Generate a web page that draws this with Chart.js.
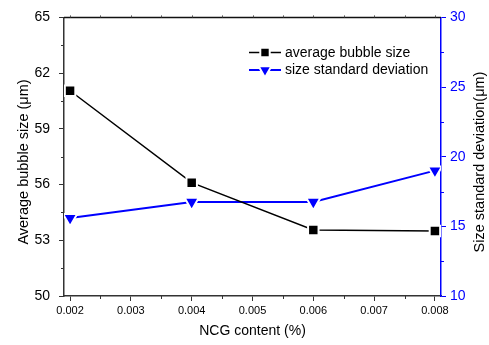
<!DOCTYPE html>
<html>
<head>
<meta charset="utf-8">
<script src="https://cdn.jsdelivr.net/npm/chart.js@4/dist/chart.umd.min.js"></script>
<style>
  html, body { margin: 0; padding: 0; background: #fff; }
  #wrap { width: 489px; height: 345px; }
</style>
</head>
<body>
<div id="wrap"><canvas id="c" width="489" height="345"></canvas></div>
<script>
// NCG content (%) on the x axis
const ncgContent = [0.002, 0.004, 0.006, 0.008];
// Average bubble size (μm), left axis
const avgBubbleSize = [61.05, 56.1, 53.55, 53.5];
// Size standard deviation (μm), right axis
const sizeStdDev = [15.6, 16.75, 16.75, 19.0];

const xTickValues = [0.002, 0.003, 0.004, 0.005, 0.006, 0.007, 0.008];
const leftTickValues = [50, 53, 56, 59, 62, 65];
const rightTickValues = [10, 15, 20, 25, 30];
const seriesNames = ['average bubble size', 'size standard deviation'];
const leftTitle = 'Average bubble size (μm)';
const rightTitle = 'Size standard deviation(μm)';

const FONT = "'Liberation Sans', Arial, sans-serif";
const BLUE = '#0000ff';
const AXIS = '#333333';

function midpoints(arr) {
  const out = [];
  for (let i = 0; i < arr.length - 1; i++) out.push((arr[i] + arr[i + 1]) / 2);
  return out;
}

function drawVerticalTitle(ctx, text, x, y) {
  ctx.save();
  ctx.fillStyle = '#000';
  ctx.font = '14.5px ' + FONT;
  ctx.textAlign = 'center';
  ctx.textBaseline = 'middle';
  ctx.translate(x, y);
  ctx.rotate(-Math.PI / 2);
  ctx.fillText(text, 0, 0);
  ctx.restore();
}

const decorPlugin = {
  id: 'decor',
  afterDraw(chart) {
    const ctx = chart.ctx;
    const area = chart.chartArea;
    const sx = chart.scales.x, sy = chart.scales.y, sy2 = chart.scales.y2;
    ctx.save();

    // top frame line with small outward ticks
    ctx.strokeStyle = '#111';
    ctx.lineWidth = 1.5;
    ctx.beginPath();
    ctx.moveTo(area.left, area.top);
    ctx.lineTo(area.right, area.top);
    ctx.stroke();
    ctx.lineWidth = 1;
    ctx.strokeStyle = '#555';
    ctx.beginPath();
    xTickValues.concat(midpoints(xTickValues)).forEach(v => {
      const px = Math.round(sx.getPixelForValue(v)) + 0.5;
      ctx.moveTo(px, area.top);
      ctx.lineTo(px, area.top - 2);
    });
    ctx.stroke();

    // minor ticks
    const minorLen = 3;
    ctx.strokeStyle = AXIS;
    ctx.beginPath();
    midpoints(xTickValues).forEach(v => {
      const px = Math.round(sx.getPixelForValue(v)) + 0.5;
      ctx.moveTo(px, area.bottom);
      ctx.lineTo(px, area.bottom + minorLen);
    });
    midpoints(leftTickValues).forEach(v => {
      const py = Math.round(sy.getPixelForValue(v)) + 0.5;
      ctx.moveTo(area.left, py);
      ctx.lineTo(area.left - minorLen, py);
    });
    ctx.stroke();
    ctx.strokeStyle = BLUE;
    ctx.beginPath();
    midpoints(rightTickValues).forEach(v => {
      const py = Math.round(sy2.getPixelForValue(v)) + 0.5;
      ctx.moveTo(area.right, py);
      ctx.lineTo(area.right + minorLen, py);
    });
    ctx.stroke();

    // axis titles, both reading bottom to top
    drawVerticalTitle(ctx, leftTitle, 24, 162);
    drawVerticalTitle(ctx, rightTitle, 480, 162);

    // legend: line - marker - line, then label
    chart.data.datasets.forEach((ds, i) => {
      const y = 52.5 + i * 17.5;
      ctx.strokeStyle = ds.borderColor;
      ctx.lineWidth = ds.borderWidth;
      ctx.beginPath();
      ctx.moveTo(249, y);
      ctx.lineTo(281, y);
      ctx.stroke();
      ctx.fillStyle = ds.pointBackgroundColor;
      ctx.strokeStyle = ds.pointBorderColor;
      ctx.lineWidth = ds.pointBorderWidth;
      Chart.helpers.drawPoint(ctx, {
        pointStyle: ds.pointStyle,
        rotation: ds.pointRotation || 0,
        radius: ds.pointRadius * 0.9,
        borderWidth: ds.pointBorderWidth
      }, 265, y);
      ctx.fillStyle = '#000';
      ctx.font = '14px ' + FONT;
      ctx.textAlign = 'left';
      ctx.textBaseline = 'middle';
      ctx.fillText(ds.label, 285, y + 0.5);
    });

    ctx.restore();
  }
};

new Chart(document.getElementById('c'), {
  type: 'line',
  data: {
    datasets: [
      {
        label: seriesNames[0],
        data: ncgContent.map((x, i) => ({ x, y: avgBubbleSize[i] })),
        yAxisID: 'y',
        borderColor: '#000',
        borderWidth: 1.5,
        pointStyle: 'rect',
        pointRadius: 7.4,
        pointBackgroundColor: '#000',
        pointBorderColor: '#fff',
        pointBorderWidth: 2,
        tension: 0,
        fill: false
      },
      {
        label: seriesNames[1],
        data: ncgContent.map((x, i) => ({ x, y: sizeStdDev[i] })),
        yAxisID: 'y2',
        borderColor: BLUE,
        borderWidth: 2,
        pointStyle: 'triangle',
        pointRotation: 180,
        pointRadius: 8.2,
        pointBackgroundColor: BLUE,
        pointBorderColor: '#fff',
        pointBorderWidth: 2,
        tension: 0,
        fill: false
      }
    ]
  },
  options: {
    responsive: false,
    animation: false,
    devicePixelRatio: 1,
    layout: { padding: { top: 15, left: 0, right: 0, bottom: 0 } },
    plugins: { legend: { display: false }, tooltip: { enabled: false } },
    scales: {
      x: {
        type: 'linear',
        min: 0.0019,
        max: 0.0081,
        afterBuildTicks: s => { s.ticks = xTickValues.map(v => ({ value: v })); },
        afterFit: s => { s.height = 49; },
        ticks: {
          callback: v => Number(v).toFixed(3),
          font: { family: FONT, size: 11 },
          color: '#000',
          padding: 3,
          maxRotation: 0,
          autoSkip: false
        },
        grid: { drawOnChartArea: false, drawTicks: true, tickLength: 5, tickColor: AXIS, tickWidth: 1 },
        border: { display: true, color: AXIS, width: 1.5 },
        title: {
          display: true,
          text: 'NCG content (%)',
          font: { family: FONT, size: 14 },
          color: '#000',
          padding: { top: 0, bottom: 5 }
        }
      },
      y: {
        position: 'left',
        min: 50,
        max: 65,
        afterBuildTicks: s => { s.ticks = leftTickValues.map(v => ({ value: v })); },
        afterFit: s => { s.width = 64; },
        ticks: { font: { family: FONT, size: 14 }, color: '#000', padding: 9 },
        grid: { drawOnChartArea: false, drawTicks: true, tickLength: 5, tickColor: AXIS, tickWidth: 1 },
        border: { display: true, color: AXIS, width: 1.5 }
      },
      y2: {
        position: 'right',
        min: 10,
        max: 30,
        afterBuildTicks: s => { s.ticks = rightTickValues.map(v => ({ value: v })); },
        afterFit: s => { s.width = 48; },
        ticks: { font: { family: FONT, size: 14 }, color: BLUE, padding: 4 },
        grid: { drawOnChartArea: false, drawTicks: true, tickLength: 5, tickColor: BLUE, tickWidth: 1 },
        border: { display: true, color: BLUE, width: 1.5 }
      }
    }
  },
  plugins: [decorPlugin]
});
</script>
</body>
</html>
